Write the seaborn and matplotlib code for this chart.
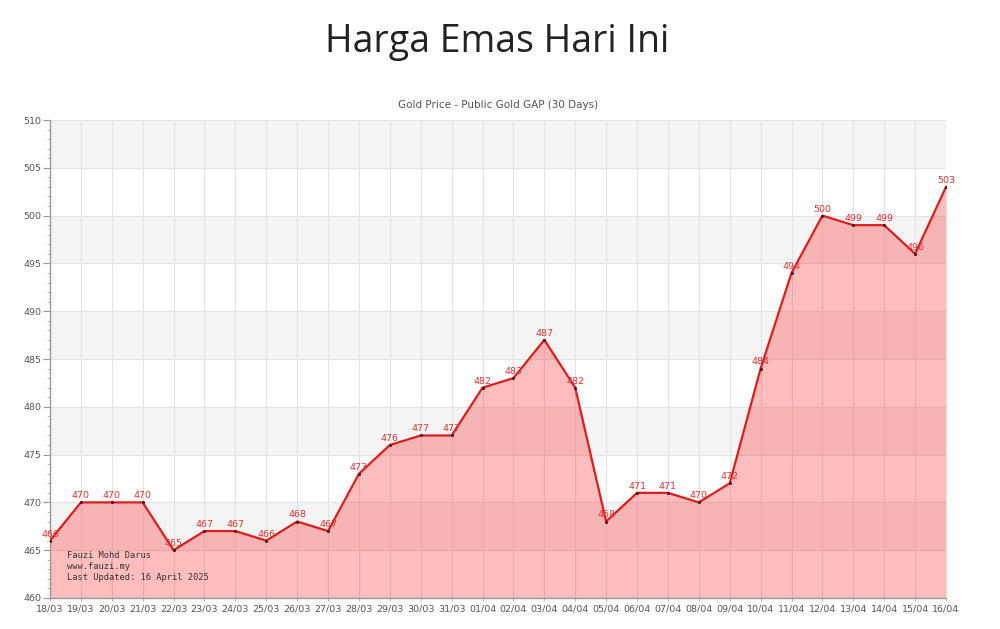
import matplotlib
matplotlib.use("Agg")
import matplotlib.pyplot as plt
import seaborn as sns
import pandas as pd
import numpy as np
from matplotlib.ticker import MultipleLocator

dates = ["18/03", "19/03", "20/03", "21/03", "22/03", "23/03", "24/03", "25/03",
         "26/03", "27/03", "28/03", "29/03", "30/03", "31/03", "01/04", "02/04",
         "03/04", "04/04", "05/04", "06/04", "07/04", "08/04", "09/04", "10/04",
         "11/04", "12/04", "13/04", "14/04", "15/04", "16/04"]
prices = [466, 470, 470, 470, 465, 467, 467, 466, 468, 467, 473, 476, 477, 477,
          482, 483, 487, 482, 468, 471, 471, 470, 472, 484, 494, 500, 499, 499,
          496, 503]
y_ticks = [460, 465, 470, 475, 480, 485, 490, 495, 500, 505, 510]

sns.set_theme(style="white")
plt.rcParams['font.family'] = ['DejaVu Sans']

df = pd.DataFrame({"idx": np.arange(len(dates)), "date": dates, "price": prices})

fig = plt.figure(figsize=(10, 6.29), dpi=100)
ax = fig.add_axes([0.05, 0.0493, 0.896, 0.7599])

ymin, ymax = y_ticks[0], y_ticks[-1]
# alternating bands
for i in range(len(y_ticks) - 1):
    lo, hi = y_ticks[i], y_ticks[i + 1]
    if i % 2 == 1:
        ax.axhspan(lo, hi, color="#f4f4f4", zorder=0, lw=0)
for yt in y_ticks:
    ax.axhline(yt, color="#e3e3e3", lw=0.8, zorder=0.5)
for i in range(len(dates)):
    ax.axvline(i, color="#e3e3e3", lw=0.8, zorder=0.5)

ax.fill_between(df["idx"], df["price"], ymin, color="#ff0000", alpha=0.26, lw=0, zorder=1)
sns.lineplot(data=df, x="idx", y="price", ax=ax, color="#dd1c1c", lw=1.6, zorder=3)
ax.scatter(df["idx"], df["price"], s=5, color="#551111", zorder=4, lw=0)

for i, p in zip(df["idx"], df["price"]):
    ax.annotate(str(p), (i, p), xytext=(0, 1.5), textcoords="offset points",
                ha="center", va="bottom", fontsize=6.8, color="#dd3333", zorder=5)

ax.set_xlim(0, len(dates) - 1)
ax.set_ylim(ymin, ymax)
ax.set_xticks(df["idx"])
ax.set_xticklabels(dates)
ax.set_yticks(y_ticks)
ax.yaxis.set_minor_locator(MultipleLocator(1))
ax.tick_params(axis="y", which="major", length=5, width=0.8, color="#999999",
               labelsize=6.8, labelcolor="#555555", pad=1, left=True)
ax.tick_params(axis="y", which="minor", length=2.5, width=0.6, color="#aaaaaa", left=True)
ax.tick_params(axis="x", length=2, width=0.6, color="#aaaaaa", labelsize=6.8,
               labelcolor="#555555", pad=3, bottom=True)
ax.set_xlabel("")
ax.set_ylabel("")
for s in ["top", "right"]:
    ax.spines[s].set_visible(False)
for s in ["left", "bottom"]:
    ax.spines[s].set_color("#999999")
    ax.spines[s].set_linewidth(1.0)

ax.set_title("Gold Price - Public Gold GAP (30 Days)", fontsize=7.5, color="#555555", pad=9)

ax.text(0.019, 0.098, "Fauzi Mohd Darus\nwww.fauzi.my\nLast Updated: 16 April 2025",
        transform=ax.transAxes, family="DejaVu Sans Mono", fontsize=6.3, color="#333333",
        va="top", ha="left", linespacing=1.3, zorder=6)

fig.text(0.497, 0.933, "Harga Emas Hari Ini", ha="center", va="center",
         fontsize=27, color="#222222", fontweight="normal", family=["Open Sans", "DejaVu Sans"])

fig.savefig("out.png", dpi=100, facecolor="white")
